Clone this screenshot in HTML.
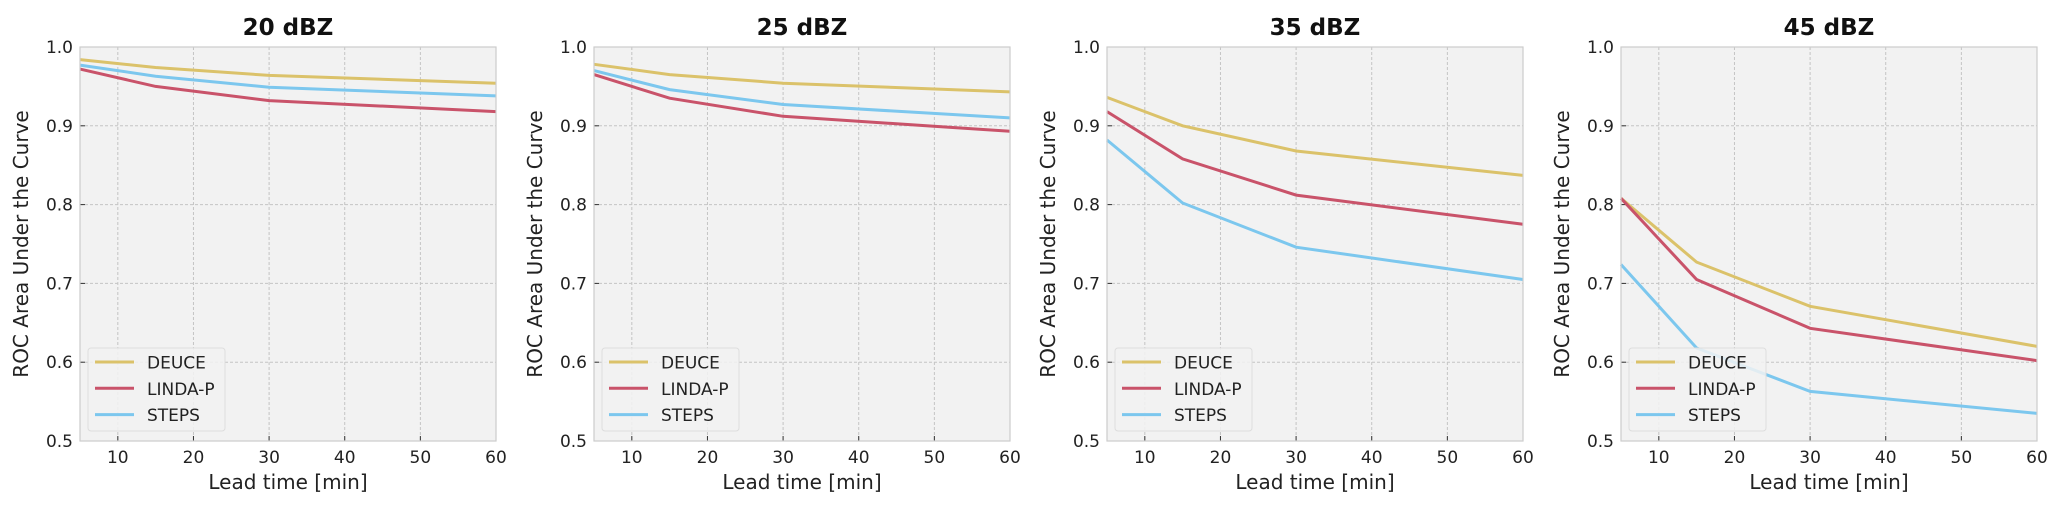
<!DOCTYPE html>
<html><head><meta charset="utf-8"><style>
html,body{margin:0;padding:0;background:#fff;}
svg{display:block;font-family:"DejaVu Sans","Liberation Sans",sans-serif;}
</style></head><body>
<svg id="chart" width="2067" height="509" viewBox="0 0 2067 509" xmlns="http://www.w3.org/2000/svg"></svg>
<script>
const titles = ["20 dBZ","25 dBZ","35 dBZ","45 dBZ"];
const leadTimes = [5,15,30,60];
const seriesNames = ["DEUCE","LINDA-P","STEPS"];
const deuce = [[0.984,0.974,0.964,0.954],[0.978,0.965,0.954,0.943],[0.936,0.900,0.868,0.837],[0.808,0.727,0.671,0.620]];
const lindap = [[0.972,0.950,0.932,0.918],[0.965,0.935,0.912,0.893],[0.918,0.858,0.812,0.775],[0.808,0.705,0.643,0.602]];
const steps = [[0.977,0.963,0.949,0.938],[0.970,0.946,0.927,0.910],[0.882,0.802,0.746,0.705],[0.724,0.618,0.563,0.535]];
const xTicks = [10,20,30,40,50,60];
const yTicks = [0.5,0.6,0.7,0.8,0.9,1.0];
const yTickLabels = ["0.5","0.6","0.7","0.8","0.9","1.0"];

const colors = ["#dbc26a","#c9536a","#7cc7ee"];
const NS = "http://www.w3.org/2000/svg";
const svgEl = document.getElementById('chart');
function mk(tag, attrs, parent){const e=document.createElementNS(NS,tag);for(const k in attrs)e.setAttribute(k,attrs[k]);(parent||svgEl).appendChild(e);return e;}
const lefts=[80,594,1107,1621], PW=416, PT=47, PH=394;
const xMin=5,xMax=60,yMin=0.5,yMax=1.0;
titles.forEach((t,p)=>{
  const L=lefts[p];
  const g=mk('g',{});
  
  
  const xs=v=>L+(v-xMin)/(xMax-xMin)*PW;
  const ys=v=>PT+(yMax-v)/(yMax-yMin)*PH;
  const bg=mk('rect',{x:L,y:PT,width:PW,height:PH,fill:"#f2f2f2"},g);
  
  
  xTicks.forEach(v=>{
    const X=xs(v);
    const gl=mk('line',{x1:X,x2:X,y1:PT,y2:PT+PH,stroke:"#c4c4c4","stroke-width":1,"stroke-dasharray":"3,2"},g);
    
    
    mk('line',{x1:X,x2:X,y1:PT+PH,y2:PT+PH-5,stroke:"#333","stroke-width":1},g);
    const tx=mk('text',{x:X,y:PT+PH+22,"text-anchor":"middle","font-size":17,fill:"#222"},g);
    tx.textContent=v;
    
    
  });
  yTicks.forEach((v,i)=>{
    const Y=ys(v);
    const gl=mk('line',{x1:L,x2:L+PW,y1:Y,y2:Y,stroke:"#c4c4c4","stroke-width":1,"stroke-dasharray":"3,2"},g);
    
    
    mk('line',{x1:L,x2:L+5,y1:Y,y2:Y,stroke:"#333","stroke-width":1},g);
    const tx=mk('text',{x:L-7,y:Y+6,"text-anchor":"end","font-size":17,fill:"#222"},g);
    tx.textContent=yTickLabels[i];
    
    
  });
  [deuce,lindap,steps].forEach((s,k)=>{
    const d=s[p].map((v,i)=>(i?'L':'M')+xs(leadTimes[i]).toFixed(1)+','+ys(v).toFixed(1)).join(' ');
    const pa=mk('path',{d:d,fill:"none",stroke:colors[k],"stroke-width":3},g);
    
    
  });
  const fr=mk('rect',{x:L,y:PT,width:PW,height:PH,fill:"none",stroke:"#cccccc","stroke-width":1.2},g);
  
  
  const lg=mk('g',{},g);
  
  
  mk('rect',{x:L+8,y:348,width:137,height:83,rx:3,fill:"#f2f2f2","fill-opacity":0.85,stroke:"#dddddd"},lg);
  seriesNames.forEach((n,k)=>{
    const Y=362+k*26.3;
    const e=mk('g',{},lg);
    
    
    mk('line',{x1:L+15,x2:L+54,y1:Y,y2:Y,stroke:colors[k],"stroke-width":3},e);
    const tx=mk('text',{x:L+67,y:Y+6.5,"font-size":17,fill:"#222"},e);
    tx.textContent=n;
  });
  const tt=mk('text',{x:L+PW/2,y:35,"text-anchor":"middle","font-size":23,"font-weight":"bold",fill:"#111"},g);
  tt.textContent=t;
  
  
  const xl=mk('text',{x:L+PW/2,y:489,"text-anchor":"middle","font-size":20,fill:"#222"},g);
  xl.textContent="Lead time [min]";
  
  
  const yl=mk('text',{x:0,y:0,"text-anchor":"middle","font-size":20,fill:"#222",transform:`translate(${L-52},${PT+PH/2}) rotate(-90)`},g);
  yl.textContent="ROC Area Under the Curve";
  
  
});
</script>
</body></html>
